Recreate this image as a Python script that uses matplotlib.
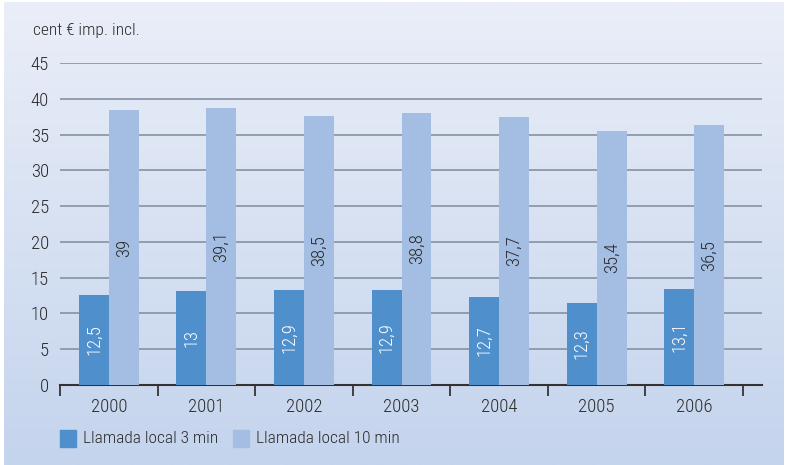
import numpy as np
import matplotlib.pyplot as plt
from matplotlib.patches import Rectangle

years = ["2000", "2001", "2002", "2003", "2004", "2005", "2006"]
# bar heights as drawn in the picture
local3 = [12.6, 13.1, 13.3, 13.3, 12.3, 11.5, 13.4]
local10 = [38.4, 38.7, 37.6, 38.0, 37.5, 35.5, 36.3]
# values printed on the bars
lab3 = ["12,5", "13", "12,9", "12,9", "12,7", "12,3", "13,1"]
lab10 = ["39", "39,1", "38,5", "38,8", "37,7", "35,4", "36,5"]
series = ["Llamada local 3 min", "Llamada local 10 min"]

dark = "#4f8fcc"
light = "#a3bde3"
txt = "#2b2b2b"

plt.rcParams['font.family'] = ['Roboto Condensed', 'DejaVu Sans']
plt.rcParams['font.weight'] = 'light'

fig = plt.figure(figsize=(7.86, 4.65), dpi=100)
fig.patch.set_facecolor("white")

# gradient background
bg = fig.add_axes([0, 0, 1, 1], zorder=-1)
grad = np.linspace(0, 1, 256).reshape(-1, 1)
c_top = np.array([0xea, 0xee, 0xf8]) / 255
c_bot = np.array([0xc4, 0xd4, 0xed]) / 255
img = c_top + (c_bot - c_top) * grad[:, :, None]
bg.imshow(img, aspect="auto", extent=[4 / 786, 784 / 786, 0, 462 / 465],
          origin="upper")
bg.set_xlim(0, 1)
bg.set_ylim(0, 1)
bg.axis("off")

W, H = 786, 465
ax = fig.add_axes([60 / W, (H - 385) / H, (762 - 60) / W, (385 - 63) / H])
ax.set_facecolor("none")

x = np.arange(len(years))
bw = 0.307
ax.bar(x - bw / 2, local3, bw, color=dark, zorder=3)
ax.bar(x + bw / 2, local10, bw, color=light, zorder=3)

for i in range(len(years)):
    ax.text(x[i] - bw / 2, local3[i] / 2, lab3[i], rotation=90, ha="center",
            va="center", color="white", fontsize=13.5, zorder=4)
    ax.text(x[i] + bw / 2, local10[i] / 2, lab10[i], rotation=90, ha="center",
            va="center", color=txt, fontsize=13.5, zorder=4)

ax.set_ylim(0, 45)
ax.set_xlim(-0.5, 6.5 + 19 / 97.6)
ax.set_yticks(np.arange(0, 46, 5))
ax.yaxis.grid(True, color="#8c98a8", linewidth=1.3, zorder=1)
ax.set_axisbelow(True)

ax.set_xticks(np.arange(-0.5, 7, 1))
ax.set_xticklabels([])
ax.set_xticks(x, minor=True)
ax.set_xticklabels(years, minor=True, fontsize=13.5, color=txt)
ax.tick_params(axis="x", which="major", length=8, width=1.3, color="#333333",
               direction="out")
ax.tick_params(axis="x", which="minor", length=0, pad=9)
ax.tick_params(axis="y", length=0, labelsize=13.5, labelcolor=txt, pad=8)

for s in ["top", "right", "left"]:
    ax.spines[s].set_visible(False)
ax.spines["bottom"].set_color("#333333")
ax.spines["bottom"].set_linewidth(1.5)

fig.text(33 / W, 1 - 30 / H, "cent € imp. incl.", fontsize=12.5, color=txt,
         va="center", ha="left")

# legend
for lab, col, x0 in zip(series, [dark, light], [60, 233]):
    fig.patches.append(Rectangle((x0 / W, 1 - 447 / H), 16 / W, 17 / H,
                                 transform=fig.transFigure, color=col))
    fig.text((x0 + 23) / W, 1 - 438 / H, lab, fontsize=12.5, color=txt,
             va="center", ha="left")

fig.savefig("out.png", dpi=100)
